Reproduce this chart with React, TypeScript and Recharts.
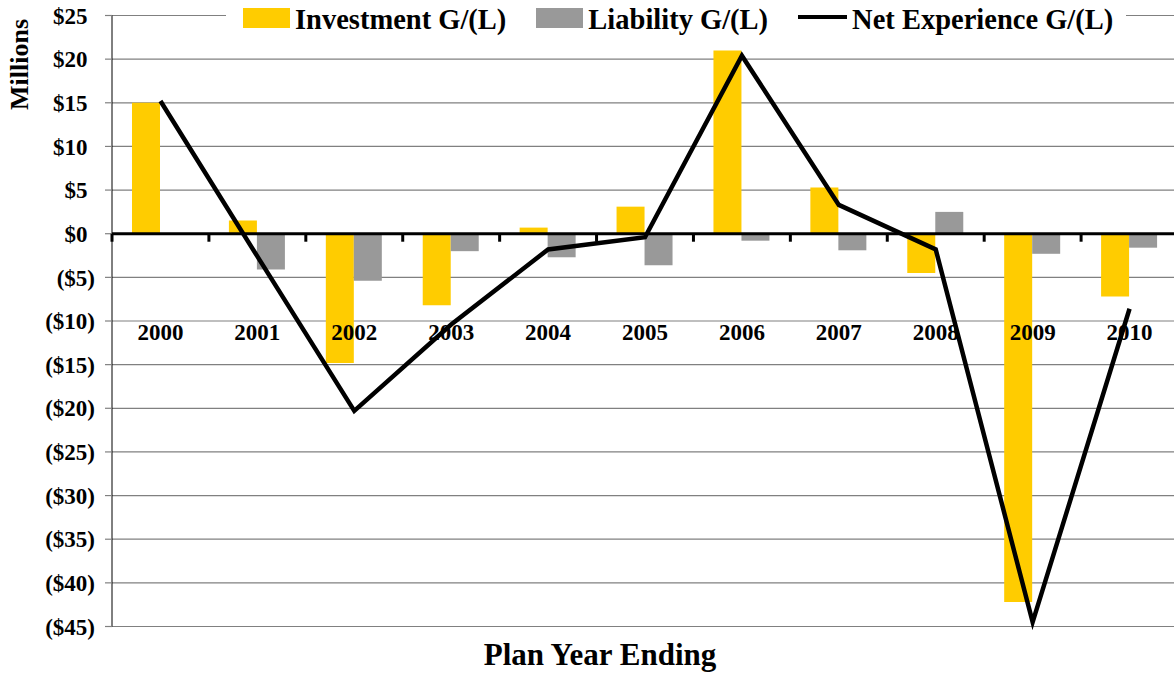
import {
  Bar,
  CartesianGrid,
  ComposedChart,
  Line,
  ReferenceLine,
  XAxis,
  YAxis,
} from "recharts";

const years = ["2000", "2001", "2002", "2003", "2004", "2005", "2006", "2007", "2008", "2009", "2010"];
const investment = [15.0, 1.5, -14.8, -8.2, 0.7, 3.1, 21.0, 5.3, -4.5, -42.2, -7.2];
const liability = [0, -4.1, -5.4, -2.0, -2.7, -3.6, -0.8, -1.9, 2.5, -2.3, -1.6];
const netExperience = [15.2, -2.6, -20.3, -10.4, -1.8, -0.4, 20.4, 3.3, -1.8, -44.5, -8.6];
const yTicks = [25, 20, 15, 10, 5, 0, -5, -10, -15, -20, -25, -30, -35, -40, -45];

const SERIES = [
  { key: "investment", name: "Investment G/(L)", color: "#FFCC00" },
  { key: "liability", name: "Liability G/(L)", color: "#999999" },
  { key: "net", name: "Net Experience G/(L)", color: "#000000" },
];

const data = years.map((year, i) => ({
  year,
  investment: investment[i],
  liability: liability[i],
  net: netExperience[i],
}));

const FONT = "'Liberation Serif', 'Times New Roman', serif";
const PLOT_TOP = 15.5;
const PLOT_BOTTOM = 626.5;
const X_AXIS_H = 30;
const Y_MAX = 25;
const Y_MIN = -45;
const ZERO_Y = PLOT_TOP + ((PLOT_BOTTOM - PLOT_TOP) * Y_MAX) / (Y_MAX - Y_MIN);
const LABEL_Y = 340;

const money = (v: number) => (v < 0 ? `($${-v})` : `$${v}`);

// year labels sit well below the zero axis, tick marks hang off the zero line
function YearTick(props: any) {
  const { x, payload } = props;
  const half = payload?.offset || 48.45;
  return (
    <g>
      <line x1={x - half} x2={x - half} y1={ZERO_Y} y2={ZERO_Y + 8} stroke="#000" strokeWidth={3} />
      <text
        x={x}
        y={LABEL_Y}
        textAnchor="middle"
        fill="#000"
        fontSize={23}
        fontWeight="bold"
        fontFamily={FONT}
      >
        {payload.value}
      </text>
    </g>
  );
}

// positive values leave room for the closing paren, like Excel's ($#) format
function MoneyTick(props: any) {
  const { x, y, payload } = props;
  const v = Number(payload.value);
  return (
    <text
      x={x - (v >= 0 ? 7.5 : 0)}
      y={y}
      dy="0.355em"
      textAnchor="end"
      fill="#000"
      fontSize={23}
      fontWeight="bold"
      fontFamily={FONT}
    >
      {money(v)}
    </text>
  );
}

function MillionsLabel(props: any) {
  const vb = props.viewBox || { x: 0, y: PLOT_TOP };
  const cx = 19;
  const cy = (vb.y ?? PLOT_TOP) + 49;
  return (
    <text
      x={cx}
      y={cy}
      transform={`rotate(-90 ${cx} ${cy})`}
      textAnchor="middle"
      dominantBaseline="central"
      fill="#000"
      fontSize={26}
      fontWeight="bold"
      fontFamily={FONT}
    >
      Millions
    </text>
  );
}

function ChartLegend() {
  return (
    <div
      style={{
        position: "absolute",
        left: 226,
        top: 0,
        width: 900,
        height: 36,
        background: "#fff",
        display: "flex",
        alignItems: "center",
        paddingLeft: 17,
        paddingTop: 4,
        boxSizing: "border-box",
        fontFamily: FONT,
        fontWeight: "bold",
        fontSize: 28.5,
        lineHeight: 1,
        color: "#000",
        whiteSpace: "nowrap",
      }}
    >
      {SERIES.map((s, i) => (
        <div key={s.key} style={{ display: "flex", alignItems: "center", marginLeft: i === 0 ? 0 : 30 }}>
          {s.key === "net" ? (
            <span style={{ display: "inline-block", width: 49, height: 4, background: s.color, marginRight: 5, marginTop: -6 }} />
          ) : (
            <span style={{ display: "inline-block", width: 47, height: 20, background: s.color, marginRight: 5, marginTop: -4 }} />
          )}
          <span>{s.name}</span>
        </div>
      ))}
    </div>
  );
}

export default function App() {
  return (
    <div
      style={{
        position: "absolute",
        left: 0,
        top: 0,
        width: 1174,
        height: 682,
        overflow: "hidden",
        background: "#fff",
      }}
    >
      <ComposedChart
        width={1180}
        height={682}
        data={data}
        margin={{ top: PLOT_TOP, right: 2, left: 0, bottom: 682 - PLOT_BOTTOM - X_AXIS_H }}
        barGap={0}
        barSize={28}
      >
        <CartesianGrid vertical={false} stroke="#808080" strokeWidth={1.2} />
        <XAxis
          dataKey="year"
          height={X_AXIS_H}
          axisLine={false}
          tickLine={false}
          tick={<YearTick />}
          interval={0}
        />
        <YAxis
          width={112}
          domain={[Y_MIN, Y_MAX]}
          ticks={yTicks}
          interval={0}
          axisLine={{ stroke: "#000", strokeWidth: 1 }}
          tickLine={{ stroke: "#808080", strokeWidth: 1.2 }}
          tickSize={7}
          tickMargin={10}
          tick={<MoneyTick />}
          label={<MillionsLabel />}
        />
        <Bar dataKey="investment" name={SERIES[0].name} fill={SERIES[0].color} isAnimationActive={false} />
        <Bar dataKey="liability" name={SERIES[1].name} fill={SERIES[1].color} isAnimationActive={false} />
        <ReferenceLine y={0} stroke="#000" strokeWidth={3} />
        <Line
          dataKey="net"
          name={SERIES[2].name}
          type="linear"
          stroke={SERIES[2].color}
          strokeWidth={4.5}
          dot={false}
          activeDot={false}
          isAnimationActive={false}
        />
      </ComposedChart>
      <ChartLegend />
      <div
        style={{
          position: "absolute",
          left: 0,
          width: 1200,
          top: 639,
          textAlign: "center",
          fontFamily: FONT,
          fontWeight: "bold",
          fontSize: 31,
          lineHeight: "32px",
          color: "#000",
        }}
      >
        Plan Year Ending
      </div>
    </div>
  );
}
